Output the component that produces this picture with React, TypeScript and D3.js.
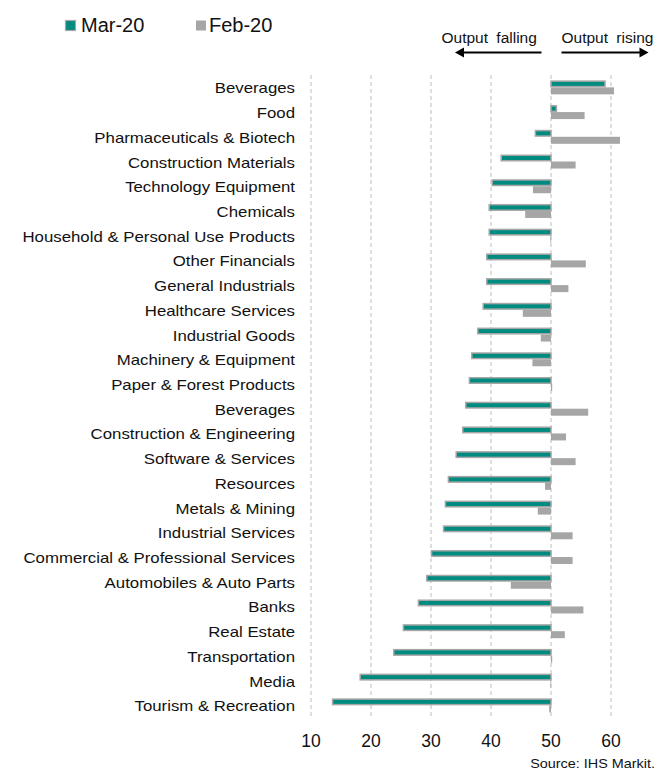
import React from "react";
import * as d3 from "d3";

const categories = [
  "Beverages",
  "Food",
  "Pharmaceuticals & Biotech",
  "Construction Materials",
  "Technology Equipment",
  "Chemicals",
  "Household & Personal Use Products",
  "Other Financials",
  "General Industrials",
  "Healthcare Services",
  "Industrial Goods",
  "Machinery & Equipment",
  "Paper & Forest Products",
  "Beverages",
  "Construction & Engineering",
  "Software & Services",
  "Resources",
  "Metals & Mining",
  "Industrial Services",
  "Commercial & Professional Services",
  "Automobiles & Auto Parts",
  "Banks",
  "Real Estate",
  "Transportation",
  "Media",
  "Tourism & Recreation",
];

const mar20 = [
  59.0, 50.9, 47.4, 41.7, 40.2, 39.7, 39.7, 39.3, 39.3, 38.7, 37.8, 36.8, 36.4,
  35.8, 35.3, 34.2, 32.9, 32.4, 32.1, 30.1, 29.3, 27.9, 25.4, 23.8, 18.2, 13.6,
];

const feb20 = [
  60.5, 55.6, 61.5, 54.1, 47.0, 45.7, 49.9, 55.8, 52.9, 45.3, 48.3, 46.9, 50.2,
  56.2, 52.5, 54.1, 49.0, 47.8, 53.6, 53.6, 43.3, 55.4, 52.3, 50.2, 49.9, 49.7,
];

const seriesNames = ["Mar-20", "Feb-20"];
const tickValues = [10, 20, 30, 40, 50, 60];
const baseline = 50;

const W = 670;
const H = 772;
const FONT = "'Liberation Sans', Arial, Helvetica, sans-serif";
const TEAL = "#008b80";
const GREY = "#a6a6a6";

export default function App() {
  const x = d3.scaleLinear().domain([10, 65]).range([311, 641]);
  const y = d3
    .scaleBand<number>()
    .domain(categories.map((_, i) => i))
    .range([76, 718.7])
    .padding(0);
  const sub = d3.scaleBand<string>().domain(seriesNames).range([-8, 6]).padding(0);
  const series = [mar20, feb20];
  const gridTop = 75;
  const gridBottom = 716;

  return (
    <svg
      width={W}
      height={H}
      style={{ position: "absolute", left: 0, top: 0, background: "#fff" }}
      fontFamily={FONT}
    >
      {/* grid */}
      {tickValues.map((t) => (
        <line
          key={"g" + t}
          x1={x(t)}
          x2={x(t)}
          y1={gridTop}
          y2={gridBottom}
          stroke="#bdbdbd"
          strokeWidth={1}
          strokeDasharray="4,3"
        />
      ))}

      {/* bars */}
      {categories.map((c, i) => {
        const cy = (y(i) as number) + y.bandwidth() / 2;
        return (
          <g key={"r" + i}>
            {series.map((vals, s) => {
              const v = vals[i];
              const x0 = x(Math.min(v, baseline));
              const x1 = x(Math.max(v, baseline));
              const yy = cy + (sub(seriesNames[s]) as number);
              const h = sub.bandwidth();
              return s === 0 ? (
                <rect
                  key={s}
                  x={x0}
                  y={yy + 0.75}
                  width={Math.max(x1 - x0, 0.5)}
                  height={h - 1.5}
                  fill={TEAL}
                  stroke={GREY}
                  strokeWidth={1.5}
                />
              ) : (
                <rect
                  key={s}
                  x={x0}
                  y={yy}
                  width={Math.max(x1 - x0, 0.8)}
                  height={h}
                  fill={GREY}
                />
              );
            })}
            <text
              transform={`translate(295,${cy + 5}) scale(1.2,1)`}
              textAnchor="end"
              fontSize={14}
              fill="#111"
            >
              {c}
            </text>
          </g>
        );
      })}

      {/* x tick labels */}
      {tickValues.map((t) => (
        <text
          key={"t" + t}
          x={x(t)}
          y={747}
          textAnchor="middle"
          fontSize={17.5}
          fill="#111"
        >
          {t}
        </text>
      ))}

      {/* legend */}
      <rect x={65.5} y={20.5} width={10} height={10} fill={TEAL} stroke={GREY} strokeWidth={1.2} />
      <text x={81} y={31.5} fontSize={20} fill="#111">
        {seriesNames[0]}
      </text>
      <rect x={196} y={20.5} width={10} height={10} fill={GREY} />
      <text x={209} y={31.5} fontSize={20} fill="#111">
        {seriesNames[1]}
      </text>

      {/* annotations */}
      <text x={441.5} y={43} fontSize={15.5} fill="#111" wordSpacing={4}>
        Output falling
      </text>
      <text x={561.5} y={43} fontSize={15.5} fill="#111" wordSpacing={4}>
        Output rising
      </text>
      <line x1={541.5} x2={462} y1={52.5} y2={52.5} stroke="#000" strokeWidth={2} />
      <polygon points="455,52.5 464,47.5 464,57.5" fill="#000" />
      <line x1={561.5} x2={641} y1={52.5} y2={52.5} stroke="#000" strokeWidth={2} />
      <polygon points="648.5,52.5 639.5,47.5 639.5,57.5" fill="#000" />

      {/* source */}
      <text
        transform="translate(655,768) scale(1.2,1)"
        textAnchor="end"
        fontSize={12}
        fill="#111"
      >
        Source: IHS Markit.
      </text>
    </svg>
  );
}
